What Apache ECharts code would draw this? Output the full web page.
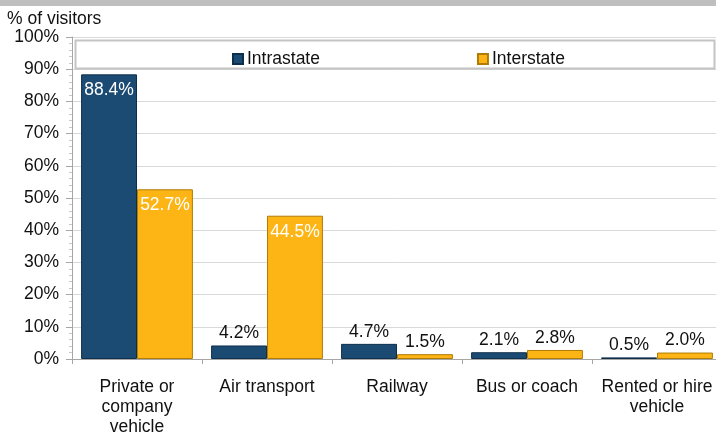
<!DOCTYPE html>
<html><head><meta charset="utf-8">
<script src="https://cdn.jsdelivr.net/npm/echarts@6/dist/echarts.min.js"></script>
<style>html,body{margin:0;padding:0;background:#fff}#c{width:716px;height:432px}</style>
</head><body><div id="c"></div>
<script>
var categories = ['Private or\ncompany\nvehicle', 'Air transport', 'Railway', 'Bus or coach', 'Rented or hire\nvehicle'];
var intrastate = [88.4, 4.2, 4.7, 2.1, 0.5];
var interstate = [52.7, 44.5, 1.5, 2.8, 2.0];
var seriesNames = ['Intrastate', 'Interstate'];
var yTicks = [0, 10, 20, 30, 40, 50, 60, 70, 80, 90, 100];

var FONT = 'Liberation Sans, Arial, sans-serif';
var FS = 17.5;
function mkData(arr) {
  return arr.map(function (v) {
    var inside = v > 40;
    return {
      value: v,
      label: {
        position: inside ? 'insideTop' : 'top',
        color: inside ? '#ffffff' : '#111111',
        distance: inside ? 7 : 3
      }
    };
  });
}
var chart = echarts.init(document.getElementById('c'), null, {renderer: 'canvas'});
chart.setOption({
  animation: false,
  textStyle: {fontFamily: FONT},
  title: {text: '% of visitors', left: 7, top: 10, padding: 0, textStyle: {fontSize: FS, fontWeight: 'normal', color: '#111', fontFamily: FONT}},
  graphic: [
    {type: 'rect', shape: {x: 0, y: 0, width: 716, height: 6}, style: {fill: '#bfbfbf'}, z: 10},
    {type: 'rect', shape: {x: 75.5, y: 40.5, width: 639, height: 28}, style: {fill: '#fff', stroke: '#c4c4c4', lineWidth: 2}, z: 5}
  ],
  legend: {
    data: seriesNames, top: 45, left: 227, itemGap: 157, itemWidth: 10, itemHeight: 10,
    icon: 'rect', z: 20,
    textStyle: {fontSize: FS, color: '#111', fontFamily: FONT, padding: [0, 0, 0, -1]}
  },
  grid: {left: 72, right: -6, top: 37, bottom: 73, containLabel: false, outerBoundsMode: 'none'},
  xAxis: {
    type: 'category', data: categories,
    axisLine: {lineStyle: {color: '#a6a6a6'}},
    axisTick: {show: true, length: 5, lineStyle: {color: '#a6a6a6'}},
    axisLabel: {fontSize: FS, color: '#111', margin: 18, lineHeight: 20, fontFamily: FONT, interval: 0}
  },
  yAxis: {
    type: 'value', min: yTicks[0], max: yTicks[yTicks.length - 1], interval: 10,
    axisLine: {show: true, lineStyle: {color: '#a6a6a6'}},
    axisTick: {show: true, length: 6, lineStyle: {color: '#a6a6a6'}},
    minorTick: {show: true, splitNumber: 5, length: 3, lineStyle: {color: '#c8c8c8'}},
    splitLine: {lineStyle: {color: '#d9d9d9'}},
    axisLabel: {fontSize: FS, color: '#111', margin: 13, formatter: '{value}%', fontFamily: FONT}
  },
  series: [
    {
      name: seriesNames[0], type: 'bar', data: mkData(intrastate),
      barWidth: '43%', barGap: '0%',
      itemStyle: {color: '#1b4b73', borderColor: '#0e2f4c', borderWidth: 1},
      label: {show: true, fontSize: FS, fontFamily: FONT, formatter: function (p) { return p.value.toFixed(1) + '%'; }}
    },
    {
      name: seriesNames[1], type: 'bar', data: mkData(interstate),
      barWidth: '43%', barGap: '0%',
      itemStyle: {color: '#fdb515', borderColor: '#b07c05', borderWidth: 1},
      label: {show: true, fontSize: FS, fontFamily: FONT, formatter: function (p) { return p.value.toFixed(1) + '%'; }}
    }
  ]
});
</script></body></html>
